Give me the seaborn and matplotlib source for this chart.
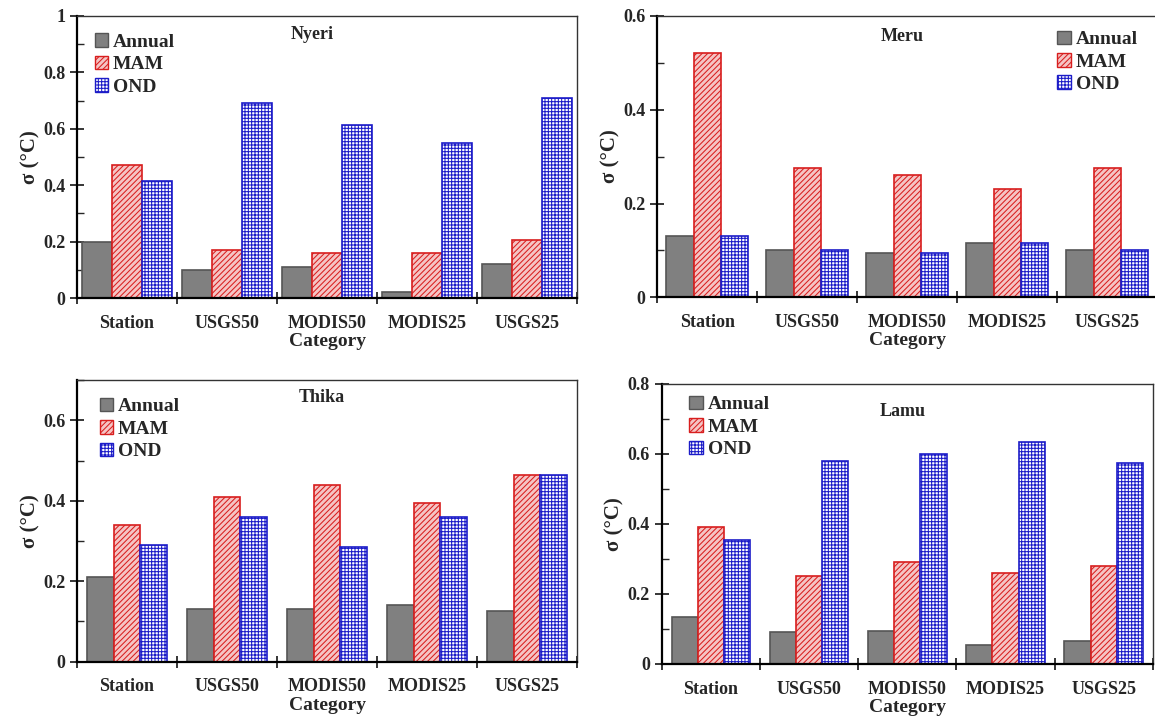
import numpy as np
import pandas as pd
import matplotlib
matplotlib.use("Agg")
import matplotlib.pyplot as plt
from matplotlib.patches import Patch
from matplotlib.ticker import MultipleLocator, FixedLocator, NullFormatter
import seaborn as sns

# --------------------------------
# Data (sigma in degC)
# --------------------------------

categories = ["Station", "USGS50", "MODIS50", "MODIS25", "USGS25"]
seasons = ["Annual", "MAM", "OND"]

nyeri_annual = [0.20, 0.10, 0.11, 0.02, 0.12]
nyeri_mam = [0.47, 0.17, 0.16, 0.16, 0.205]
nyeri_ond = [0.415, 0.69, 0.615, 0.55, 0.71]

meru_annual = [0.13, 0.10, 0.095, 0.115, 0.10]
meru_mam = [0.52, 0.275, 0.26, 0.23, 0.275]
meru_ond = [0.13, 0.10, 0.095, 0.115, 0.10]

thika_annual = [0.21, 0.13, 0.13, 0.14, 0.125]
thika_mam = [0.34, 0.41, 0.44, 0.395, 0.465]
thika_ond = [0.29, 0.36, 0.285, 0.36, 0.465]

lamu_annual = [0.135, 0.09, 0.095, 0.055, 0.065]
lamu_mam = [0.39, 0.25, 0.29, 0.26, 0.28]
lamu_ond = [0.355, 0.58, 0.60, 0.635, 0.575]

# --------------------------------
# Style
# --------------------------------

sns.set_style("ticks")
plt.rcParams["font.family"] = ["Liberation Serif", "DejaVu Serif"]
plt.rcParams["font.weight"] = "bold"
plt.rcParams["hatch.linewidth"] = 0.75

styles = {
    "Annual": dict(facecolor="#808080", edgecolor="#555555", hatch=None),
    "MAM": dict(facecolor="#f5c4c4", edgecolor="#d81e1e", hatch="//////"),
    "OND": dict(facecolor="white", edgecolor="#1c1cc8", hatch="+++++"),
}


def long_df(annual, mam, ond):
    rows = []
    for vals, s in zip([annual, mam, ond], seasons):
        for c, v in zip(categories, vals):
            rows.append({"Category": c, "Season": s, "sigma": v})
    return pd.DataFrame(rows)


panels = [
    # name, data, ylim, axes rect, bar width, legend anchor, title xy
    ("Nyeri", long_df(nyeri_annual, nyeri_mam, nyeri_ond), 1.0,
     [0.0667, 0.586, 0.433, 0.392], 0.9, (0.0, 1.0), (0.47, 0.935)),
    ("Meru", long_df(meru_annual, meru_mam, meru_ond), 0.6,
     [0.569, 0.587, 0.433, 0.391], 0.82, (0.765, 1.01), (0.49, 0.925)),
    ("Thika", long_df(thika_annual, thika_mam, thika_ond), 0.7,
     [0.0667, 0.081, 0.433, 0.391], 0.8, (0.01, 1.0), (0.49, 0.94)),
    ("Lamu", long_df(lamu_annual, lamu_mam, lamu_ond), 0.8,
     [0.573, 0.078, 0.425, 0.389], 0.8, (0.02, 1.02), (0.49, 0.9)),
]

fig = plt.figure(figsize=(11.55, 7.2), dpi=100)

for name, df, ytop, rect, w, legpos, tpos in panels:
    ax = fig.add_axes(rect)
    sns.barplot(data=df, x="Category", y="sigma", hue="Season",
                hue_order=seasons, order=categories, width=w,
                palette=["#808080", "#f5c4c4", "white"], saturation=1,
                legend=False, ax=ax)
    for cont, s in zip(ax.containers, seasons):
        st = styles[s]
        for bar in cont:
            bar.set_facecolor(st["facecolor"])
            bar.set_edgecolor(st["edgecolor"])
            bar.set_linewidth(1.2)
            if st["hatch"]:
                bar.set_hatch(st["hatch"])

    ax.set_xlim(-0.5, 4.5)
    ax.set_ylim(0, ytop)

    # category ticks at the boundaries, labels at the centres
    ax.xaxis.set_major_locator(FixedLocator(np.arange(-0.5, 5.0, 1.0)))
    ax.xaxis.set_major_formatter(NullFormatter())
    ax.xaxis.set_minor_locator(FixedLocator(np.arange(5)))
    ax.set_xticklabels(categories, minor=True)
    ax.tick_params(axis="x", which="major", direction="inout", length=9,
                   width=1.3)
    ax.tick_params(axis="x", which="minor", length=0, pad=12,
                   labelsize=13)

    yt = np.arange(0, ytop + 0.01, 0.2)
    ax.yaxis.set_minor_locator(MultipleLocator(0.1))
    ax.set_yticks(yt)
    ax.set_yticklabels(["0" if v == 0 else ("1" if v == 1 else f"{v:.1f}")
                        for v in yt])
    ax.tick_params(axis="y", which="major", direction="inout", length=10,
                   width=1.3, labelsize=13)
    ax.tick_params(axis="y", which="minor", direction="in", length=5,
                   width=1.0)

    for sp in ax.spines.values():
        sp.set_linewidth(1.0)
        sp.set_color("#333333")
    ax.spines["left"].set_linewidth(1.6)
    ax.spines["left"].set_color("black")
    ax.spines["bottom"].set_linewidth(1.6)
    ax.spines["bottom"].set_color("black")

    ax.set_xlabel("Category", fontsize=14, fontweight="bold", labelpad=1)
    ax.set_ylabel("σ (°C)", fontsize=15, fontweight="bold", labelpad=2)

    ax.text(tpos[0], tpos[1], name, transform=ax.transAxes, ha="center",
            va="center", fontsize=13, fontweight="bold")

    handles = [Patch(**styles[s], linewidth=1.0, label=s) for s in seasons]
    ax.legend(handles=handles, loc="upper left", bbox_to_anchor=legpos,
              frameon=False, handlelength=0.7, handleheight=0.7,
              handletextpad=0.25, labelspacing=0.25,
              prop={"family": "Liberation Serif", "weight": "bold",
                    "size": 14})

fig.savefig("out.png", dpi=100)
